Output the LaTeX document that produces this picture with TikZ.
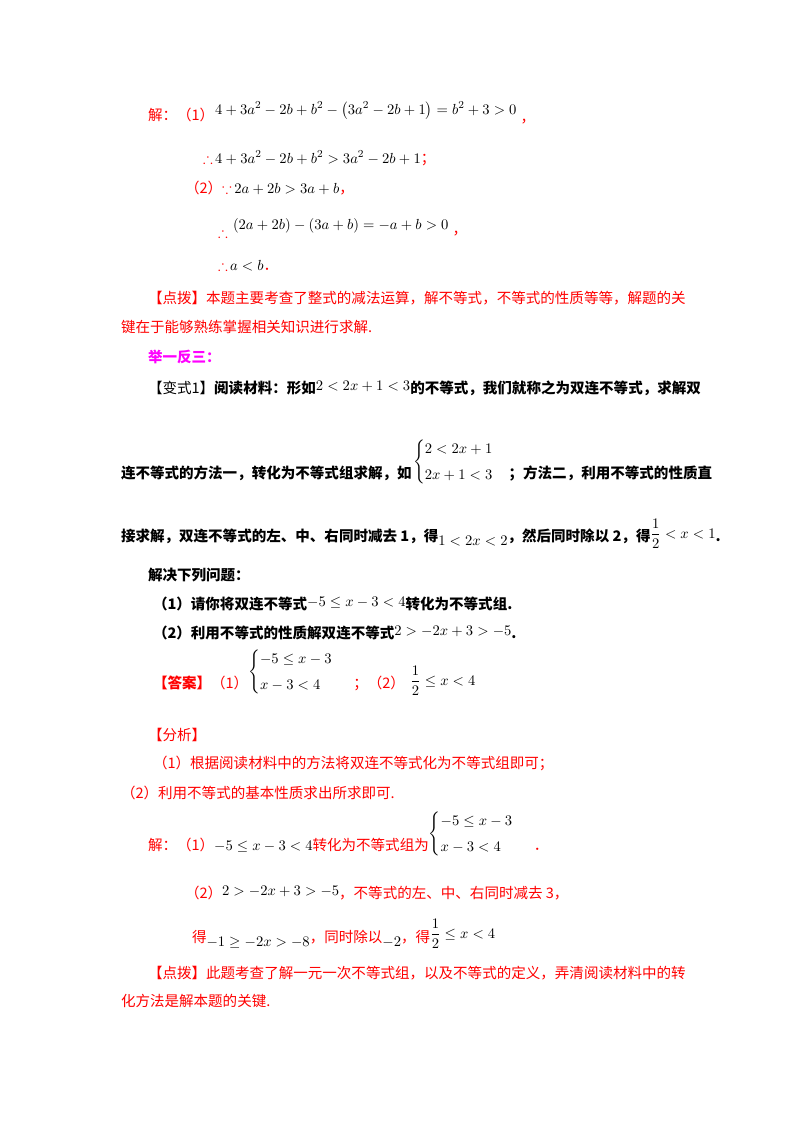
\documentclass[tikz,border=0pt]{standalone}
\usepackage{amsmath,amssymb}
\usepackage[no-math]{fontspec}
\newfontfamily\cjk{Noto Sans CJK SC}
\definecolor{rd}{RGB}{255,0,0}
\definecolor{mg}{RGB}{255,0,255}
\begin{document}
\begin{tikzpicture}[x=0.75pt,y=-0.75pt,
  t/.style={anchor=base west,inner sep=0pt,outer sep=0pt,font=\cjk\fontsize{10.9}{13}\selectfont},
  r/.style={t,text=rd},
  b/.style={t,font=\cjk\bfseries\fontsize{10.9}{13}\selectfont},
  m/.style={anchor=base west,inner sep=0pt,outer sep=0pt,font=\fontsize{11}{13}\selectfont}]
\useasboundingbox[fill=white] (0,0) rectangle (800,1132);
% solution 1
\node[r] (s1) at (148,120) {解：（1）};
\node[m] (s1m) at (215,114) {$4+3a^2-2b+b^2-\left(3a^2-2b+1\right)=b^2+3>0$};
\node[r] (s1c) at ([xshift=3pt,yshift=-6pt]s1m.base east) {，};
\node[r] (s2) at (203,163) {$\therefore$};
\node[m] (s2m) at (s2.base east) {\,$4+3a^2-2b+b^2>3a^2-2b+1$};
\node[r] (s2c) at (s2m.base east) {；};
\node[r] (s3) at (185,193) {（2）$\because$};
\node[m] (s3m) at (s3.base east) {\,$2a+2b>3a+b$};
\node[r] (s3c) at (s3m.base east) {，};
\node[r] (s4) at (218,237) {$\therefore$};
\node[m] (s4m) at (233,229) {$(2a+2b)-(3a+b)=-a+b>0$};
\node[r] (s4c) at ([xshift=3pt,yshift=-4pt]s4m.base east) {，};
\node[r] (s5) at (218,270) {$\therefore$};
\node[m] (s5m) at (s5.base east) {\,$a<b$};
\node[r] (s5c) at (s5m.base east) {．};
\node[r] (d1) at (148,303) {【点拨】本题主要考查了整式的减法运算，解不等式，不等式的性质等等，解题的关};
\node[r] (d2) at (121,332) {键在于能够熟练掌握相关知识进行求解.};
\node[b,text=mg] (jy) at (148,362) {举一反三：};
% variant
\node[t] (v1) at (148,393) {【变式1】};
\node[b] (v1b) at (v1.base east) {阅读材料：形如};
\node[m] (v1m) at ([yshift=2pt]v1b.base east) {$2<2x+1<3$};
\node[b] (v1c) at ([yshift=-2pt]v1m.base east) {的不等式，我们就称之为双连不等式，求解双};
\node[b] (v2) at (121,478) {连不等式的方法一，转化为不等式组求解，如};
\node[m,anchor=west] (v2m) at ([xshift=1pt,yshift=12pt]v2.base east) {$\begin{cases}2<2x+1\\[4pt]2x+1<3\end{cases}$};
\node[b] (v2c) at (v2m.east |- v2.base) {；方法二，利用不等式的性质直};
\node[b] (v3) at (121,541) {接求解，双连不等式的左、中、右同时减去 1，得};
\node[m] (v3m) at ([yshift=-3pt]v3.base east) {$1<2x<2$};
\node[b] (v3b) at ([yshift=3pt]v3m.base east) {，然后同时除以 2，得};
\node[m] (v3f) at ([yshift=2pt]v3b.base east) {$\dfrac12<x<1$};
\node[b] (v3d) at ([yshift=-2pt]v3f.base east) {.};
\node[b] (q0) at (148,580) {解决下列问题：};
\node[b] (q1) at (153,609) {（1）请你将双连不等式};
\node[m] (q1m) at ([yshift=2pt]q1.base east) {$-5\le x-3<4$};
\node[b] (q1c) at ([yshift=-2pt]q1m.base east) {转化为不等式组.};
\node[b] (q2) at (153,638) {（2）利用不等式的性质解双连不等式};
\node[m] (q2m) at ([yshift=2pt]q2.base east) {$2>-2x+3>-5$};
\node[b] (q2c) at ([yshift=-2pt]q2m.base east) {.};
% answer
\node[b,text=rd] (a1) at (153,688) {【答案】};
\node[r] (a2) at (a1.base east) {（1）};
\node[m,anchor=west] (a3) at ([yshift=12pt]a2.base east) {$\begin{cases}-5\le x-3\\[4pt]x-3<4\end{cases}$};
\node[r] (a4) at ([xshift=4pt]a3.east |- a1.base) {；（2）};
\node[m] (a5) at ([xshift=4pt,yshift=2pt]a4.base east) {$\dfrac12\le x<4$};
\node[r] (f0) at (148,740) {【分析】};
\node[r] (f1) at (153,768) {（1）根据阅读材料中的方法将双连不等式化为不等式组即可；};
\node[r] (f2) at (121,798) {（2）利用不等式的基本性质求出所求即可.};
\node[r] (j1) at (148,850) {解：（1）};
\node[m] (j1m) at (j1.base east) {$-5\le x-3<4$};
\node[r] (j1b) at (j1m.base east) {转化为不等式组为};
\node[m,anchor=west] (j1c) at ([yshift=12pt]j1b.base east) {$\begin{cases}-5\le x-3\\[4pt]x-3<4\end{cases}$};
\node[r] (j1d) at ([xshift=4pt]j1c.east |- j1.base) {．};
\node[r] (j2) at (185,898) {（2）};
\node[m] (j2m) at ([yshift=2pt]j2.base east) {$2>-2x+3>-5$};
\node[r] (j2b) at ([yshift=-2pt]j2m.base east) {，不等式的左、中、右同时减去 3，};
\node[r] (j3) at (192,942) {得};
\node[m] (j3m) at ([yshift=-3pt]j3.base east) {$-1\ge-2x>-8$};
\node[r] (j3b) at ([yshift=3pt]j3m.base east) {，同时除以};
\node[m] (j3c) at ([yshift=-3pt]j3b.base east) {$-2$};
\node[r] (j3d) at ([yshift=3pt]j3c.base east) {，得};
\node[m] (j3e) at ([yshift=3pt]j3d.base east) {$\dfrac12\le x<4$};
\node[r] (e1) at (148,978) {【点拨】此题考查了解一元一次不等式组，以及不等式的定义，弄清阅读材料中的转};
\node[r] (e2) at (121,1006) {化方法是解本题的关键.};
\end{tikzpicture}
\end{document}
